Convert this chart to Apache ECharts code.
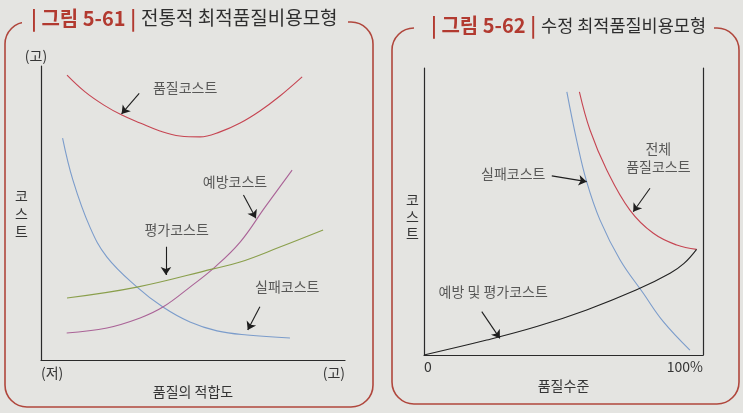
<!DOCTYPE html>
<html>
<head>
<meta charset="utf-8">
<script src="https://cdn.jsdelivr.net/npm/echarts@6/dist/echarts.min.js"></script>
<style>
  html, body { margin: 0; padding: 0; background: #e4e4e1; }
  #chart { width: 743px; height: 413px; }
</style>
</head>
<body>
<div id="chart"></div>
<script>
// --- Figure 5-61 (traditional model), 0..100 scale
const qualityCost = [[8.55, 96.9], [14.5, 91.2], [20.7, 86.7], [26.6, 83.3], [32.6, 80.6], [39.1, 77.9],
    [45.7, 76.2], [52.3, 75.9], [58.9, 77.6], [65.5, 80.6], [72.0, 84.7], [78.6, 89.8], [85.9, 96.3]];
const failureCost = [[7.1, 75.5], [10.5, 61.2], [16.1, 45.2], [21.7, 35.0], [31.6, 24.8], [40.1, 18.0],
    [49.0, 12.9], [57.9, 9.9], [67.8, 8.5], [81.9, 7.5]];
const preventionCost = [[8.45, 9.2], [21.7, 10.9], [32.6, 14.3], [40.1, 18.0], [49.0, 24.8], [57.2, 31.6],
    [65.5, 40.1], [73.7, 52.0], [82.6, 64.6]];
const appraisalCost = [[8.55, 21.1], [31.6, 24.8], [56.6, 31.0], [65.5, 33.3], [78.6, 38.4], [92.8, 44.2]];

const leftLabels = [
    { name: '품질코스트', value: [47.4, 92.5] },
    { name: '예방코스트', value: [63.8, 60.7] },
    { name: '평가코스트', value: [44.6, 44.2] },
    { name: '실패코스트', value: [81.0, 24.9] }
];
const leftArrows = [
    [[32.3, 90.7], [26.5, 83.7]],
    [[66.6, 56.1], [70.7, 48.2]],
    [[41.1, 38.5], [41.1, 28.9]],
    [[72.0, 18.1], [68.0, 10.2]]
];
const leftXTicks = { 0: '(저)', 100: '(고)' };

// --- Figure 5-62 (revised model)
const failureCost2 = [[51.2, 91.7], [54.7, 74.9], [58.3, 60.4], [63.1, 47.0], [70.3, 33.1], [78.6, 21.5],
    [85.7, 11.7], [95.3, 1.7]];
const totalCost2 = [[55.7, 91.7], [59.5, 78.4], [65.5, 64.5], [73.8, 50.5], [82.2, 42.4], [90.6, 38.3],
    [97.7, 36.8]];
const preventAppraisal2 = [[0, 0], [22.5, 5.2], [40.4, 9.9], [58.3, 15.7], [76.2, 22.7], [88.2, 28.5],
    [93.2, 31.9], [97.7, 36.8]];

const rightLabels = [
    { name: '실패코스트', value: [32.0, 63.3] },
    { name: '전체', value: [84.0, 72.0] },
    { name: '품질코스트', value: [84.0, 65.6] },
    { name: '예방 및 평가코스트', value: [24.8, 22.1] }
];
const rightArrows = [
    [[45.8, 62.4], [58.3, 60.4]],
    [[81.0, 58.1], [75.0, 49.9]],
    [[20.7, 15.1], [27.2, 5.8]]
];
const rightXTicks = { 0: '0', 100: '100%' };

const ink = '#353535';
const frame = '#b0473d';
const paper = '#e4e4e1';
const font = '"Noto Sans CJK KR", sans-serif';

const chart = echarts.init(document.getElementById('chart'));

function valueX(gridIndex, ticks, name, nameGap, margin) {
    return {
        type: 'value', gridIndex, min: 0, max: 100, interval: 100,
        name, nameLocation: 'middle', nameGap,
        nameTextStyle: { color: ink, fontSize: 14, fontFamily: font },
        axisLine: { lineStyle: { color: '#2a2a2a', width: 1.2 } },
        axisTick: { show: false }, splitLine: { show: false },
        axisLabel: {
            color: ink, fontSize: 14, fontFamily: font, margin,
            formatter: v => ticks[v] || '',
            alignMaxLabel: 'right', alignMinLabel: 'left'
        }
    };
}

function valueY(gridIndex, extra) {
    return Object.assign({
        type: 'value', gridIndex, min: 0, max: 100,
        axisLine: { show: true, lineStyle: { color: '#2a2a2a', width: 1.2 } },
        axisTick: { show: false }, splitLine: { show: false }, axisLabel: { show: false }
    }, extra);
}

function curve(data, color, xi, yi) {
    return {
        type: 'line', data, smooth: 0.4, symbol: 'none',
        xAxisIndex: xi, yAxisIndex: yi,
        lineStyle: { color, width: 1.1 }, silent: true, z: 3
    };
}

function labels(data, xi, yi) {
    return {
        type: 'scatter', data, symbolSize: 0, xAxisIndex: xi, yAxisIndex: yi,
        label: {
            show: true, position: 'inside', formatter: p => p.name,
            color: ink, fontSize: 14, fontFamily: font
        },
        silent: true, z: 5
    };
}

function arrows(list, xi, yi) {
    return {
        type: 'lines', coordinateSystem: 'cartesian2d', xAxisIndex: xi, yAxisIndex: yi,
        data: list.map(c => ({ coords: c })),
        symbol: ['none', 'arrow'], symbolSize: 8,
        lineStyle: { color: '#1e1e1e', width: 1.1, opacity: 1 },
        silent: true, z: 4
    };
}

const red = { color: '#b23a30', fontSize: 20, fontWeight: 'bold', fontFamily: font };

const option = {
    backgroundColor: paper,
    animation: false,
    title: [
        { text: '{a|| 그림 5-61 |} {b|전통적 최적품질비용모형}', left: 26, top: 3,
          textStyle: { rich: { a: red, b: { color: '#2e2e2e', fontSize: 19, fontWeight: 'normal', fontFamily: font } } } },
        { text: '{a|| 그림 5-62 |} {b|수정 최적품질비용모형}', left: 426, top: 10,
          textStyle: { rich: { a: red, b: { color: '#2e2e2e', fontSize: 17.5, fontWeight: 'normal', fontFamily: font } } } }
    ],
    graphic: [
        { type: 'rect', shape: { x: 5, y: 22, width: 368, height: 385, r: 22 },
          style: { fill: null, stroke: frame, lineWidth: 1.6 }, z: -10 },
        { type: 'rect', shape: { x: 22, y: 14, width: 326, height: 14 },
          style: { fill: paper }, z: -9 },
        { type: 'rect', shape: { x: 392, y: 28, width: 347, height: 376, r: 22 },
          style: { fill: null, stroke: frame, lineWidth: 1.6 }, z: -10 },
        { type: 'rect', shape: { x: 414, y: 20, width: 300, height: 14 },
          style: { fill: paper }, z: -9 },
        { type: 'text', left: 15, top: 187,
          style: { text: '코\n스\n트', fill: ink, fontSize: 14, fontFamily: font, lineHeight: 18 } },
        { type: 'text', left: 406, top: 191,
          style: { text: '코\n스\n트', fill: ink, fontSize: 14, fontFamily: font, lineHeight: 17 } }
    ],
    grid: [
        { left: 41, top: 66, width: 304, height: 294 },
        { left: 424, top: 68, width: 279, height: 287 }
    ],
    xAxis: [
        valueX(0, leftXTicks, '품질의 적합도', 7, 6),
        valueX(1, rightXTicks, '품질수준', 3, 5)
    ],
    yAxis: [
        valueY(0, { name: '(고)', nameLocation: 'end', nameGap: 3,
            nameTextStyle: { color: ink, fontSize: 14, fontFamily: font, align: 'center', padding: [0, 10, 0, 0] } }),
        valueY(1, {}),
        valueY(1, { position: 'right' })
    ],
    series: [
        curve(qualityCost, '#c64552', 0, 0),
        curve(failureCost, '#7b9ccb', 0, 0),
        curve(preventionCost, '#aa6397', 0, 0),
        curve(appraisalCost, '#8a9f4c', 0, 0),
        labels(leftLabels, 0, 0),
        arrows(leftArrows, 0, 0),
        curve(failureCost2, '#7b9ccb', 1, 1),
        curve(totalCost2, '#c64552', 1, 1),
        curve(preventAppraisal2, '#222222', 1, 1),
        labels(rightLabels, 1, 1),
        arrows(rightArrows, 1, 1)
    ]
};

chart.setOption(option);
</script>
</body>
</html>
